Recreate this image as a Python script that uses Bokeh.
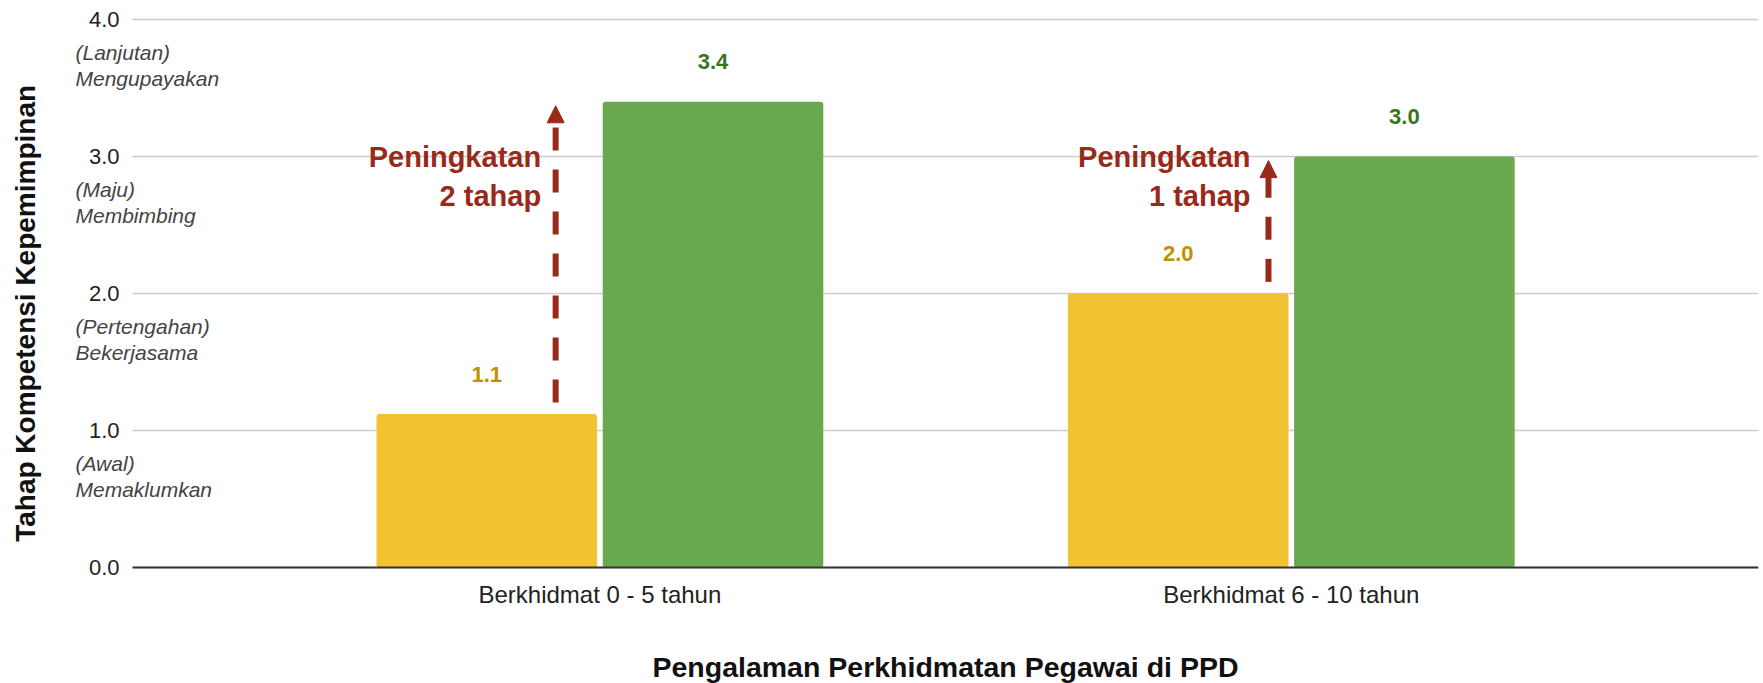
import math
from bokeh.plotting import figure
from bokeh.core.properties import value
from bokeh.models import (Range1d, Label, LabelSet, Arrow, NormalHead,
                          ColumnDataSource, FixedTicker)
from bokeh.transform import dodge
from bokeh.embed import file_html
from bokeh.resources import INLINE

# ---------------- data ----------------
categories = ["Berkhidmat 0 - 5 tahun", "Berkhidmat 6 - 10 tahun"]
before_values = [1.12, 2.0]
after_values = [3.4, 3.0]
y_ticks = [0, 1, 2, 3, 4]
level_values = [1, 2, 3, 4]
level_names = ["(Awal)\nMemaklumkan", "(Pertengahan)\nBekerjasama",
               "(Maju)\nMembimbing", "(Lanjutan)\nMengupayakan"]
improvement_texts = ["Peningkatan\n2 tahap", "Peningkatan\n1 tahap"]
x_title = "Pengalaman Perkhidmatan Pegawai di PPD"
y_title = "Tahap Kompetensi Kepemimpinan"

# ---------------- style / layout ----------------
YELLOW = "#F1C232"
GREEN = "#6AA84F"
YELLOW_TXT = "#BF9000"
GREEN_TXT = "#38761D"
RED = "#992A1A"
FONT = "Liberation Sans"
W, H = 1763, 683
FRAME_R_PAD = 5
FRAME_B_PAD = 103
PX_PER_Y = 137.0
Y0_PX = 567.0
PX_PER_CAT = 691.4
CAT0_PX = 599.4
PLOT_L_PX = 132
TICK_LBL_PX = 119
DESC_PX = 75
YTITLE_PX = 25
XTITLE_PX_Y = 666
BAR_W = 0.319
BAR_OFF = 0.1636
ARROW_DX = [-0.064, -0.033]
ANN_DX = [-0.085, -0.059]
ANN_Y = 3.11
DESC_DY = -0.334
Y_TITLE_AT = 1.855

frame_w = W - FRAME_R_PAD
frame_h = H - FRAME_B_PAD
x_start = 0.5 - CAT0_PX / PX_PER_CAT
x_end = x_start + frame_w / PX_PER_CAT
y_end = Y0_PX / PX_PER_Y
y_start = -(frame_h - Y0_PX) / PX_PER_Y


def px_to_x(px):
    return x_start + px / PX_PER_CAT


cat_pos = [i + 0.5 for i in range(len(categories))]

src = ColumnDataSource(dict(
    pos=cat_pos,
    before=before_values,
    after=after_values,
    before_lbl=[f"{v:.1f}" for v in before_values],
    after_lbl=[f"{v:.1f}" for v in after_values],
))
tick_src = ColumnDataSource(dict(tick=y_ticks, lbl=[f"{t:.1f}" for t in y_ticks]))

p = figure(
    width=W, height=H,
    x_range=Range1d(x_start, x_end), y_range=Range1d(y_start, y_end),
    y_axis_location=None,
    output_backend="svg", toolbar_location=None,
    min_border_left=0, min_border_right=FRAME_R_PAD,
    min_border_top=0, min_border_bottom=FRAME_B_PAD,
)
p.outline_line_color = None
p.background_fill_color = "white"
p.border_fill_color = "white"
p.grid.visible = False

# horizontal gridlines at the y ticks
p.segment(x0=px_to_x(PLOT_L_PX), x1=x_end, y0="tick", y1="tick", source=tick_src,
          line_color="#CCCCCC", line_width=1.5)

# bars
p.vbar(x=dodge("pos", -BAR_OFF), top="before", width=BAR_W, bottom=0,
       source=src, fill_color=YELLOW, line_color=None, border_radius=3)
p.vbar(x=dodge("pos", BAR_OFF), top="after", width=BAR_W, bottom=0,
       source=src, fill_color=GREEN, line_color=None, border_radius=3)

# baseline (value 0)
p.segment(x0=[px_to_x(PLOT_L_PX)], x1=[x_end], y0=[y_ticks[0]], y1=[y_ticks[0]],
          line_color="#333333", line_width=2)

# y tick labels
p.text(x=px_to_x(TICK_LBL_PX), y="tick", text="lbl", source=tick_src,
       text_align="right", text_baseline="middle", text_font=value(FONT),
       text_font_size="22px", text_color="#222222")

# value labels
lbl_common = dict(text_font=value(FONT), text_font_size="22px", text_font_style="bold",
                  text_align="center", text_baseline="middle", y_offset=40)
p.add_layout(LabelSet(x=dodge("pos", -BAR_OFF), y="before", text="before_lbl",
                      source=src, text_color=YELLOW_TXT, **lbl_common))
p.add_layout(LabelSet(x=dodge("pos", BAR_OFF), y="after", text="after_lbl",
                      source=src, text_color=GREEN_TXT, **lbl_common))

# improvement arrows and notes
for i, cx in enumerate(cat_pos):
    p.add_layout(Arrow(
        start=None,
        end=NormalHead(size=17, fill_color=RED, line_color=RED, line_width=1),
        x_start=cx + ARROW_DX[i], y_start=before_values[i] + 0.085,
        x_end=cx + ARROW_DX[i], y_end=after_values[i] - 0.03,
        line_color=RED, line_width=6, line_dash="23 19"))
    p.add_layout(Label(
        x=cx + ANN_DX[i], y=ANN_Y, text=improvement_texts[i],
        text_align="right", text_baseline="top", text_font=FONT,
        text_font_size="29px", text_font_style="bold", text_color=RED,
        text_line_height=1.2))

# level descriptors
for lv, name in zip(level_values, level_names):
    p.add_layout(Label(
        x=px_to_x(DESC_PX), y=lv + DESC_DY, text=name,
        text_align="left", text_baseline="middle",
        text_font=FONT, text_font_size="21px", text_font_style="italic",
        text_color="#444444", text_line_height=1.15))

# y title
p.add_layout(Label(
    x=px_to_x(YTITLE_PX), y=Y_TITLE_AT, text=y_title, angle=math.pi / 2,
    text_align="center", text_baseline="middle", text_font=FONT,
    text_font_size="28px", text_font_style="bold", text_color="#111111"))

# x axis with category labels
p.xaxis.ticker = FixedTicker(ticks=cat_pos)
p.xaxis.major_label_overrides = dict(zip(cat_pos, categories))
p.xaxis.axis_line_color = None
p.xaxis.major_tick_line_color = None
p.xaxis.minor_tick_line_color = None
p.xaxis.major_tick_out = 0
p.xaxis.major_tick_in = 0
p.xaxis.minor_tick_out = 0
p.xaxis.major_label_standoff = 0
p.xaxis.major_label_text_font = FONT
p.xaxis.major_label_text_font_size = "24px"
p.xaxis.major_label_text_color = "#222222"

# x title, placed in the panel below the frame
p.add_layout(Label(
    x=(PLOT_L_PX + frame_w) / 2, y=XTITLE_PX_Y, x_units="canvas", y_units="canvas",
    text=x_title, text_align="center", text_baseline="middle", text_font=FONT,
    text_font_size="28.5px", text_font_style="bold", text_color="#111111"), "below")

open("out.html", "w").write(file_html(p, INLINE))
